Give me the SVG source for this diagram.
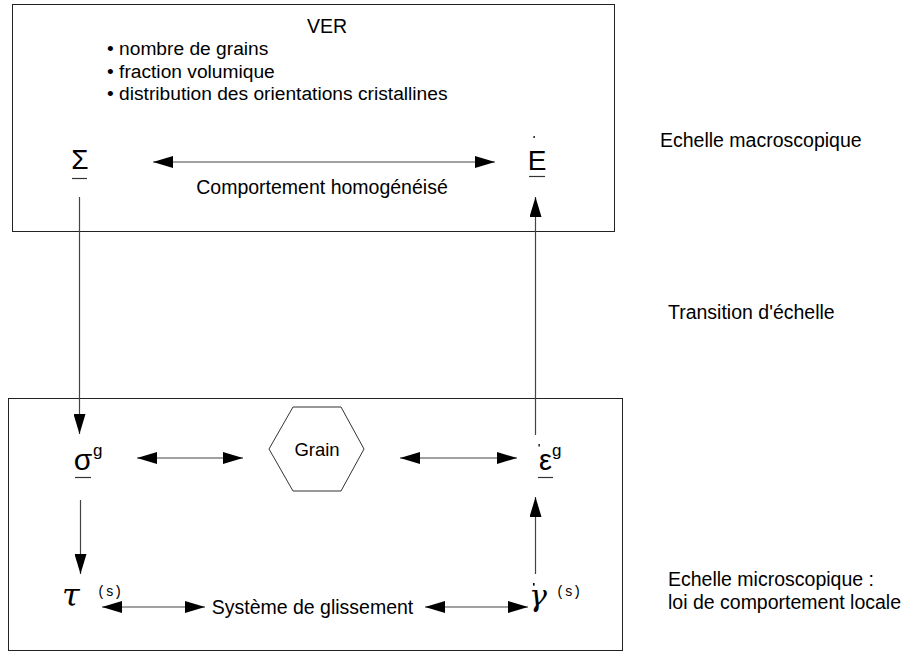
<svg xmlns="http://www.w3.org/2000/svg" width="907" height="659" viewBox="0 0 907 659">
<style>
.t{font-family:"Liberation Sans",Arial,sans-serif;fill:#000}
.box{fill:none;stroke:#222;stroke-width:1}
.ln{stroke:#444;stroke-width:1.2;fill:none}
.ul{stroke:#333;stroke-width:1.2}
.m{font-family:"Liberation Mono",monospace;fill:#000;font-size:14px}
.g{font-family:"DejaVu Serif",serif;font-style:italic;fill:#000}
</style>
<defs>
<marker id="a" viewBox="0 0 20 12" refX="20" refY="6" markerWidth="20" markerHeight="12" markerUnits="userSpaceOnUse" orient="auto-start-reverse">
<path d="M0,0 L20,6 L0,12 Z" fill="#000"/>
</marker>
</defs>
<rect width="907" height="659" fill="#fff"/>

<g id="ver">
<rect class="box" x="12.5" y="4.5" width="602" height="227"/>
<text class="t" x="327" y="33" font-size="19.5" text-anchor="middle">VER</text>
<text class="t" x="107" y="55" font-size="19.2">• nombre de grains</text>
<text class="t" x="107" y="78" font-size="19.2">• fraction volumique</text>
<text class="t" x="107" y="100" font-size="19.2">• distribution des orientations cristallines</text>
<text class="t" x="322" y="194" font-size="19.5" text-anchor="middle">Comportement homogénéisé</text>
</g>

<g id="Sigma">
<text class="t" x="80" y="169" font-size="28" text-anchor="middle">Σ</text>
<line class="ul" x1="72" y1="178.5" x2="87" y2="178.5"/>
</g>

<g id="Edot">
<text class="t" x="537" y="170" font-size="28" text-anchor="middle">E</text>
<rect x="533.5" y="136" width="1.3" height="2" fill="#000"/>
<line class="ul" x1="529" y1="176.5" x2="545" y2="176.5"/>
</g>

<g id="micro">
<rect class="box" x="8.5" y="398.5" width="614" height="252"/>
</g>

<g id="sigma_g">
<text class="t" x="83" y="470" font-size="30" text-anchor="middle">σ</text>
<text class="t" x="93" y="456" font-size="17">g</text>
<line class="ul" x1="75" y1="477.5" x2="91" y2="477.5"/>
</g>

<g id="grain">
<polygon points="269,449 293,407 341,407 364,449 341,491 293,491" fill="#fff" stroke="#333" stroke-width="1"/>
<text class="t" x="317" y="456" font-size="18.5" text-anchor="middle">Grain</text>
</g>

<g id="eps_g">
<text class="t" x="545.5" y="470" font-size="29" text-anchor="middle">ε</text>
<rect x="538.5" y="444" width="1.3" height="2.5" fill="#000"/>
<text class="t" x="552" y="456" font-size="17">g</text>
<line class="ul" x1="538" y1="477.5" x2="553" y2="477.5"/>
</g>

<g id="tau">
<text class="g" x="62" y="606" font-size="32">τ</text>
<text class="m" x="97" y="596">(s)</text>
</g>

<g id="glissement">
<text class="t" x="312.5" y="614" font-size="19.5" text-anchor="middle">Système de glissement</text>
</g>

<g id="gamma">
<text class="g" x="529" y="606" font-size="30">γ</text>
<rect x="533" y="583" width="1.6" height="2.6" fill="#000"/>
<text class="m" x="556" y="596">(s)</text>
</g>

<g id="labels">
<text class="t" x="660" y="147" font-size="19.5">Echelle macroscopique</text>
<text class="t" x="668" y="319" font-size="19.5">Transition d'échelle</text>
<text class="t" x="668" y="586" font-size="19.5">Echelle microscopique :</text>
<text class="t" x="668" y="609" font-size="19.5">loi de comportement locale</text>
</g>

<g id="connectors">
<line class="ln" x1="153" y1="162" x2="495" y2="162" stroke="#000" marker-start="url(#a)" marker-end="url(#a)"/>
<line class="ln" x1="79.5" y1="197" x2="79.5" y2="434" marker-end="url(#a)"/>
<line class="ln" x1="535.5" y1="435" x2="535.5" y2="197" marker-end="url(#a)"/>
<line class="ln" x1="137" y1="458" x2="243" y2="458" stroke="#000" marker-start="url(#a)" marker-end="url(#a)"/>
<line class="ln" x1="400" y1="458" x2="517" y2="458" stroke="#000" marker-start="url(#a)" marker-end="url(#a)"/>
<line class="ln" x1="80.5" y1="500" x2="80.5" y2="574" marker-end="url(#a)"/>
<line class="ln" x1="535.5" y1="574" x2="535.5" y2="497" marker-end="url(#a)"/>
<line class="ln" x1="102" y1="607" x2="205" y2="607" stroke="#000" marker-start="url(#a)" marker-end="url(#a)"/>
<line class="ln" x1="425" y1="607" x2="528" y2="607" stroke="#000" marker-start="url(#a)" marker-end="url(#a)"/>
</g>
</svg>
